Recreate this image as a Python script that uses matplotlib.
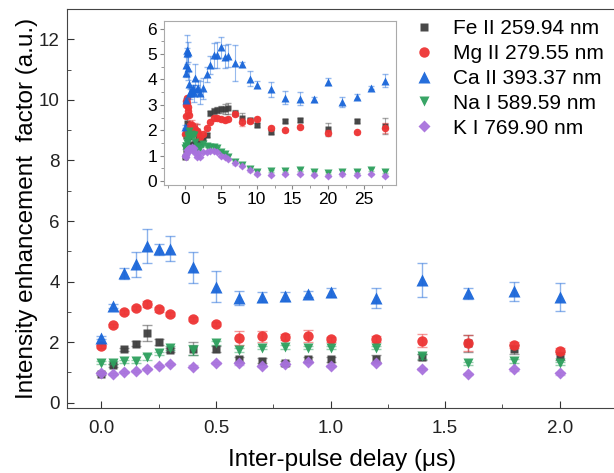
import numpy as np
import matplotlib
matplotlib.use('Agg')
import matplotlib.pyplot as plt
from matplotlib.ticker import MultipleLocator

plt.rcParams['font.family'] = ['Liberation Sans', 'DejaVu Sans']

# delays (us) of the main panel
t_main = [0, 0.05, 0.1, 0.15, 0.2, 0.25, 0.3, 0.4, 0.5, 0.6, 0.7, 0.8, 0.9, 1.0,
          1.2, 1.4, 1.6, 1.8, 2.0]

fe = [0.95, 1.24, 1.76, 1.95, 2.29, 1.99, 1.74, 1.79, 1.76, 1.44, 1.39, 1.30, 1.43, 1.43,
      1.46, 1.52, 1.96, 1.77, 1.54]
fe_err = [0.05, 0.05, 0.06, 0.08, 0.26, 0.10, 0.08, 0.22, 0.10, 0.08, 0.08, 0.08, 0.08, 0.08,
          0.10, 0.10, 0.29, 0.15, 0.12]
mg = [1.87, 2.55, 3.00, 3.14, 3.26, 3.08, 2.92, 2.77, 2.59, 2.14, 2.20, 2.17, 2.20, 2.10,
      2.09, 2.05, 1.98, 1.90, 1.72]
mg_err = [0.05, 0.06, 0.06, 0.07, 0.10, 0.07, 0.06, 0.07, 0.06, 0.23, 0.18, 0.10, 0.20, 0.08,
          0.10, 0.22, 0.27, 0.10, 0.10]
ca = [2.15, 3.20, 4.27, 4.57, 5.17, 5.06, 5.09, 4.47, 3.83, 3.47, 3.49, 3.51, 3.59, 3.65,
      3.45, 4.05, 3.61, 3.68, 3.48]
ca_err = [0.05, 0.06, 0.18, 0.42, 0.57, 0.18, 0.40, 0.51, 0.51, 0.23, 0.15, 0.14, 0.10, 0.15,
          0.33, 0.56, 0.17, 0.31, 0.46]
na = [1.32, 1.32, 1.37, 1.37, 1.52, 1.63, 1.80, 1.74, 1.98, 1.74, 1.82, 1.85, 1.82, 1.82,
      1.82, 1.54, 1.30, 1.38, 1.30]
na_err = [0.05, 0.05, 0.05, 0.05, 0.10, 0.06, 0.06, 0.15, 0.06, 0.06, 0.06, 0.06, 0.06, 0.06,
          0.06, 0.08, 0.06, 0.08, 0.06]
k = [0.99, 0.94, 1.02, 1.05, 1.12, 1.21, 1.27, 1.19, 1.32, 1.30, 1.22, 1.27, 1.34, 1.22,
     1.32, 1.11, 0.94, 1.10, 0.97]
k_err = [0.04] * len(t_main)

# longer delays, only shown in the inset
t_late = [2.5, 3.0, 3.5, 4.0, 4.5, 5.0, 5.5, 6.0, 7, 8, 9, 10, 12, 14, 16, 18, 20, 22, 24, 26, 28]
t_late_fm = [2.5, 3.0, 3.5, 4.0, 4.5, 5.0, 5.5, 6.0, 7, 8, 9, 10, 12, 14, 16, 20, 24, 28]

fe_late = [1.70, 1.80, 2.67, 2.76, 2.80, 2.82, 2.85, 2.86, 2.70, 2.47, 2.40, 2.21, 1.95, 2.38,
           2.41, 2.04, 2.37, 2.17]
fe_late_err = [0.08, 0.08, 0.10, 0.10, 0.10, 0.12, 0.20, 0.20, 0.10, 0.20, 0.10, 0.08, 0.08, 0.08,
               0.08, 0.25, 0.08, 0.30]
mg_late = [1.85, 2.08, 2.34, 2.47, 2.50, 2.45, 2.42, 2.44, 2.63, 2.32, 2.38, 2.45, 2.10, 2.01,
           2.14, 1.91, 1.93, 2.10]
mg_late_err = [0.06, 0.06, 0.06, 0.08, 0.08, 0.08, 0.08, 0.08, 0.08, 0.15, 0.08, 0.08, 0.06, 0.06,
               0.06, 0.10, 0.06, 0.20]
ca_late = [3.65, 4.20, 4.58, 4.95, 4.97, 5.26, 4.90, 4.93, 4.65, 4.60, 4.03, 3.80, 3.62, 3.28,
           3.25, 3.22, 3.92, 3.10, 3.32, 3.68, 3.95]
ca_late_err = [0.40, 0.30, 0.35, 0.50, 0.50, 0.40, 0.45, 0.45, 0.70, 0.10, 0.30, 0.15, 0.30, 0.25,
               0.25, 0.10, 0.12, 0.20, 0.10, 0.05, 0.25]
na_late = [1.45, 1.38, 1.35, 1.33, 1.30, 1.16, 1.06, 0.96, 0.76, 0.63, 0.47, 0.37, 0.40, 0.40,
           0.45, 0.35, 0.32, 0.37, 0.37, 0.45, 0.37]
k_late = [1.15, 1.15, 1.20, 1.20, 1.15, 1.00, 0.96, 0.87, 0.70, 0.59, 0.43, 0.30, 0.26, 0.28,
          0.30, 0.26, 0.20, 0.27, 0.26, 0.28, 0.22]
small_err = [0.05] * len(t_late)

labels = ['Fe II 259.94 nm', 'Mg II 279.55 nm', 'Ca II 393.37 nm', 'Na I 589.59 nm', 'K I 769.90 nm']
colors = ['#3f3f3f', '#ee3434', '#1a66d9', '#2ea05e', '#a872dd']
markers = ['s', 'o', '^', 'v', 'D']
msizes = [6, 7.5, 8, 7.5, 6]

fig = plt.figure(figsize=(6.14, 4.73), dpi=100)
ax = fig.add_axes([0.109, 0.1364, 0.896, 0.8446])

main_y = [fe, mg, ca, na, k]
main_e = [fe_err, mg_err, ca_err, na_err, k_err]
handles = []
for y, e, c, m, s, lab in zip(main_y, main_e, colors, markers, msizes, labels):
    ax.errorbar(t_main, y, yerr=e, fmt='none', ecolor=c, alpha=0.5, elinewidth=1, capsize=3.5)
    h, = ax.plot(t_main, y, linestyle='none', marker=m, ms=s, color=c, mec='none', alpha=0.95,
                 label=lab)
    handles.append(h)

ax.set_xlim(-0.15, 2.25)
ax.set_ylim(-0.19, 13.0)
ax.xaxis.set_major_locator(MultipleLocator(0.5))
ax.xaxis.set_minor_locator(MultipleLocator(0.25))
ax.yaxis.set_major_locator(MultipleLocator(2))
ax.yaxis.set_minor_locator(MultipleLocator(1))
ax.set_xticks([0, 0.5, 1.0, 1.5, 2.0])
ax.set_xticklabels(['0.0', '0.5', '1.0', '1.5', '2.0'])
ax.tick_params(which='both', direction='in', color='#333333', labelsize=13.5, labelcolor='#222222')
ax.tick_params(which='major', length=5)
ax.tick_params(which='minor', length=3)
ax.tick_params(axis='x', pad=8)
ax.tick_params(axis='y', pad=5)
for sp in ax.spines.values():
    sp.set_color('#444444')
ax.set_xlabel('Inter-pulse delay (μs)', fontsize=17.5, labelpad=9)
ax.set_ylabel('Intensity enhancement  factor (a.u.)', fontsize=17.5, labelpad=1)

ax.legend(handles=handles, loc='upper left', bbox_to_anchor=(0.6566, 0.9815),
          bbox_transform=fig.transFigure, frameon=False, fontsize=15, handlelength=1.0,
          handletextpad=0.9, labelspacing=0.28, borderpad=0)

# inset with the full delay range
ins = fig.add_axes([0.267, 0.6089, 0.378, 0.3467])
late_t = [t_late_fm, t_late_fm, t_late, t_late, t_late]
late_y = [fe_late, mg_late, ca_late, na_late, k_late]
late_e = [fe_late_err, mg_late_err, ca_late_err, small_err, small_err]
for i in range(5):
    tt = t_main + late_t[i]
    yy = main_y[i] + late_y[i]
    ee = main_e[i] + late_e[i]
    ins.errorbar(tt, yy, yerr=ee, fmt='none', ecolor=colors[i], alpha=0.45, elinewidth=0.8,
                 capsize=2)
    ins.plot(tt, yy, linestyle='none', marker=markers[i], ms=msizes[i] * 0.72, color=colors[i],
             mec='none', alpha=0.95)
ins.set_xlim(-3, 29.5)
ins.set_ylim(-0.15, 6.3)
ins.xaxis.set_major_locator(MultipleLocator(5))
ins.xaxis.set_minor_locator(MultipleLocator(2.5))
ins.yaxis.set_major_locator(MultipleLocator(1))
ins.yaxis.set_minor_locator(MultipleLocator(0.5))
ins.tick_params(which='both', direction='out', color='#888888', labelsize=12.5, pad=2)
ins.tick_params(which='major', length=3)
ins.tick_params(which='minor', length=2)
for sp in ins.spines.values():
    sp.set_color('#aaaaaa')

fig.savefig('out.png', dpi=100)
